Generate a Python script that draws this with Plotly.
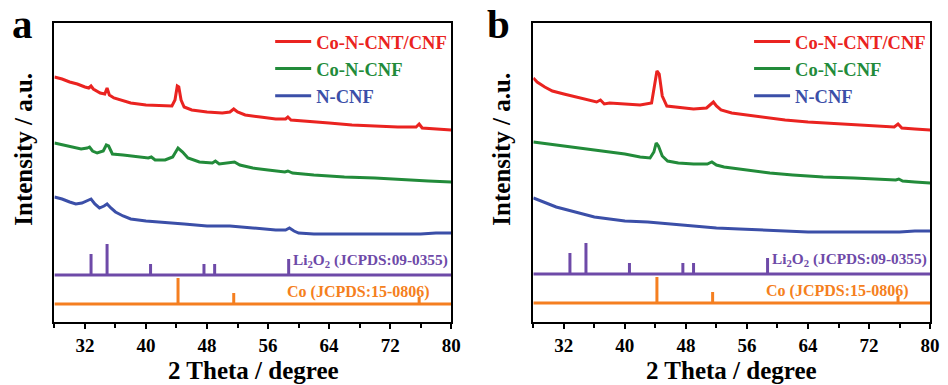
import plotly.graph_objects as go

# ---------------- data (intensity in a.u.) ----------------
A_RED_X = [28, 29, 30, 31, 32, 32.5, 32.8, 33.1, 34, 34.6, 34.9, 35.2, 35.8, 37, 38, 40, 42, 43.4, 43.8, 44.1, 44.3, 44.6, 45, 46, 48, 50, 51, 51.5, 52, 53, 55, 57, 58.3, 58.6, 59, 61, 64, 67, 70, 73, 75.4, 75.8, 76.2, 78, 80]
A_RED_Y = [245, 243, 240, 238, 235, 234, 236, 233, 229, 228, 234, 227, 224, 221, 219, 217, 216, 216, 222, 236, 235, 222, 215, 212, 210, 209, 210, 213, 210, 207, 205, 203, 203, 205, 202, 201, 199, 197, 196, 195, 195, 198, 194, 193, 192]

A_GREEN_X = [28, 30, 31.5, 32.3, 32.6, 33, 33.6, 34.4, 34.8, 35.1, 35.6, 37, 39, 40.3, 40.7, 41.2, 42.5, 43.5, 44.2, 44.8, 45.5, 47, 48.7, 49.1, 49.6, 51.1, 51.6, 52.3, 54, 56, 58.2, 58.6, 59.2, 62, 66, 70, 74, 77, 80]
A_GREEN_Y = [179, 176, 173, 174, 175, 171, 169, 171, 177, 176, 168, 167, 165, 164, 165, 162, 162, 165, 174, 170, 164, 160, 159, 161, 158, 159, 160, 157, 154, 152, 150, 151, 149, 147, 145, 144, 142, 141, 140]

A_BLUE_X = [28, 29, 30, 30.8, 31.6, 32.3, 32.8, 33.3, 33.9, 34.5, 34.9, 35.4, 36, 37, 38, 40, 42, 45, 48, 51, 54, 57, 58.3, 58.8, 59.4, 60, 62, 64, 68, 72, 76, 78, 80]
A_BLUE_Y = [125, 123, 120, 118, 119, 121, 123, 118, 114, 116, 118, 114, 110, 106, 103, 101, 100, 98, 96, 96, 94, 92, 92, 94, 91, 89, 88, 88, 88, 88, 88, 89, 89]

B_RED_X = [28, 28.5, 29.5, 30.5, 32, 33.5, 35, 36.3, 36.8, 37.3, 38, 40, 42, 43.5, 43.9, 44.2, 44.5, 44.9, 45.5, 47, 49, 50.7, 51.3, 51.6, 52, 52.6, 54, 56, 58, 61, 64, 68, 72, 75.3, 75.8, 76.3, 78, 80]
B_RED_Y = [244, 240, 235, 231, 228, 225, 222, 220, 222, 218, 219, 218, 217, 219, 237, 251, 248, 226, 216, 215, 213, 214, 218, 220, 216, 212, 209, 207, 205, 202, 200, 198, 196, 195, 198, 194, 193, 192]

B_GREEN_X = [28, 30, 32, 34, 36, 38, 40, 42, 43.3, 43.8, 44.1, 44.4, 44.9, 45.6, 47, 49, 50.8, 51.4, 52, 53, 55, 57, 59, 62, 66, 70, 74, 75.5, 75.9, 76.4, 78, 80]
B_GREEN_Y = [180, 178, 176, 174, 172, 170, 168, 165, 164, 170, 179, 176, 166, 161, 159, 158, 158, 160, 157, 155, 153, 151, 149, 147, 145, 144, 142, 142, 143, 141, 140, 139]

B_BLUE_X = [28, 29, 30, 31, 32, 33, 34, 35, 36, 38, 40, 43, 46, 49, 52, 55, 58, 61, 64, 68, 72, 76, 78, 80]
B_BLUE_Y = [124, 121, 118, 115, 113, 111, 109, 107, 105, 103, 101, 100, 98, 96, 94, 93, 92, 91, 90, 90, 90, 90, 91, 91]

LI2O2_POS = [32.8, 34.9, 40.6, 47.6, 49.0, 58.7]
LI2O2_INT = [21, 31, 11, 11, 11, 16]
CO_POS = [44.2, 51.5, 75.8]
CO_INT = [26, 11, 7]

SERIES_NAMES = ["Co-N-CNT/CNF", "Co-N-CNF", "N-CNF"]
X_TICKS = [32, 40, 48, 56, 64, 72, 80]
X_MINOR = [28, 36, 44, 52, 60, 68, 76]
X_RANGE = [28, 80]

# ---------------- styling ----------------
W, H = 948, 385
RED, GREEN, BLUE = "#EA2320", "#228B3A", "#3B4FA8"
PURPLE, ORANGE = "#6E4AA8", "#F57F20"
FONT = "Liberation Serif"
LI_BASE = {"a": 47, "b": 48}
CO_BASE = {"a": 18, "b": 19}


def px(x, y):
    return x / W, 1 - y / H


fig = go.Figure()


def sticks(pos, inten, base):
    xs, ys = [X_RANGE[0], X_RANGE[1], None], [base, base, None]
    for p, h in zip(pos, inten):
        xs += [p, p, None]
        ys += [base, base + h, None]
    return xs, ys


panels = [
    ("a", "x", "y", "legend", [(A_RED_X, A_RED_Y), (A_GREEN_X, A_GREEN_Y), (A_BLUE_X, A_BLUE_Y)]),
    ("b", "x2", "y2", "legend2", [(B_RED_X, B_RED_Y), (B_GREEN_X, B_GREEN_Y), (B_BLUE_X, B_BLUE_Y)]),
]
colors = [RED, GREEN, BLUE]

for key, xa, ya, lg, curves in panels:
    for (cx, cy), name, col in zip(curves, SERIES_NAMES, colors):
        fig.add_trace(go.Scatter(
            x=cx, y=cy, mode="lines", xaxis=xa, yaxis=ya, legend=lg,
            line=dict(color=col, width=3),
            name=f"<span style='color:{col}'><b>{name}</b></span>",
        ))
    lx, ly = sticks(LI2O2_POS, LI2O2_INT, LI_BASE[key])
    fig.add_trace(go.Scatter(x=lx, y=ly, mode="lines", xaxis=xa, yaxis=ya,
                             line=dict(color=PURPLE, width=3), showlegend=False))
    cx_, cy_ = sticks(CO_POS, CO_INT, CO_BASE[key])
    fig.add_trace(go.Scatter(x=cx_, y=cy_, mode="lines", xaxis=xa, yaxis=ya,
                             line=dict(color=ORANGE, width=3), showlegend=False))
    fig.add_annotation(x=79.8, y=LI_BASE[key] + 15, xref=xa, yref=ya, showarrow=False,
                       xanchor="right", yanchor="middle",
                       text="<b>Li<sub>2</sub>O<sub>2</sub> (JCPDS:09-0355)</b>",
                       font=dict(family=FONT, size=15.3, color=PURPLE))
    fig.add_annotation(x=77.5, y=CO_BASE[key] + 12, xref=xa, yref=ya, showarrow=False,
                       xanchor="right", yanchor="middle",
                       text="<b>Co (JCPDS:15-0806)</b>",
                       font=dict(family=FONT, size=16, color=ORANGE))

y_dom = [1 - 322 / H, 1 - 23 / H]
xaxis_common = dict(
    range=X_RANGE, tickvals=X_TICKS, ticks="outside", ticklen=5, tickwidth=2,
    tickcolor="black", showline=True, linecolor="black", linewidth=2, mirror=True,
    showgrid=False, zeroline=False,
    minor=dict(tickvals=X_MINOR, ticks="outside", ticklen=4,
               tickwidth=2, tickcolor="black", showgrid=False),
    tickfont=dict(family=FONT, size=19, color="black", weight="bold"),
)
yaxis_common = dict(
    range=[0, 299], showticklabels=False, ticks="", showline=True, linecolor="black",
    linewidth=2, mirror=True, showgrid=False, zeroline=False, domain=y_dom,
)

legend_common = dict(
    bgcolor="rgba(0,0,0,0)", font=dict(family=FONT, size=18.5), yanchor="top",
    xanchor="right", tracegroupgap=0, itemwidth=36,
)

fig.update_layout(
    width=W, height=H, margin=dict(l=0, r=0, t=0, b=0),
    plot_bgcolor="white", paper_bgcolor="white",
    xaxis=dict(domain=[55 / W, 456 / W], anchor="y", **xaxis_common),
    yaxis=dict(anchor="x", **yaxis_common),
    xaxis2=dict(domain=[539 / W, 940 / W], anchor="y2", **xaxis_common),
    yaxis2=dict(anchor="x2", **yaxis_common),
    legend=dict(x=457 / W, y=1 - 23 / H, **legend_common),
    legend2=dict(x=941 / W, y=1 - 23 / H, **legend_common),
)

# axis titles, placed at their pixel positions
for cx in (256, 739):
    x, y = px(cx, 370)
    fig.add_annotation(x=x, y=y, xref="paper", yref="paper", showarrow=False,
                       xanchor="center", yanchor="middle",
                       text="<b>2 Theta / degree</b>",
                       font=dict(family=FONT, size=25, color="black"))
for cx in (23, 506):
    x, y = px(cx, 149)
    fig.add_annotation(x=x, y=y, xref="paper", yref="paper", showarrow=False,
                       xanchor="center", yanchor="middle", textangle=-90,
                       text="<b>Intensity / a.u.</b>",
                       font=dict(family=FONT, size=25, color="black"))

# panel letters
for letter, cx, cy in (("a", 23, 24), ("b", 504, 24)):
    x, y = px(cx, cy)
    fig.add_annotation(x=x, y=y, xref="paper", yref="paper", showarrow=False,
                       xanchor="center", yanchor="middle",
                       text=f"<b>{letter}</b>",
                       font=dict(family=FONT, size=41, color="black"))

fig.write_html("out.html")
